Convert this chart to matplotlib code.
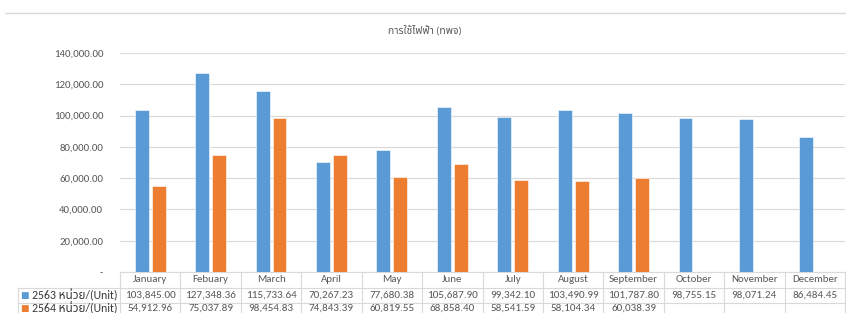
import numpy as np
import matplotlib
matplotlib.use("Agg")
from matplotlib import pyplot as plt
from matplotlib.ticker import FuncFormatter

months = ['January', 'Febuary', 'March', 'April', 'May', 'June', 'July',
          'August', 'September', 'October', 'November', 'December']
units_2563 = [103845.00, 127348.36, 115733.64, 70267.23, 77680.38, 105687.90,
              99342.10, 103490.99, 101787.80, 98755.15, 98071.24, 86484.45]
units_2564 = [54912.96, 75037.89, 98454.83, 74843.39, 60819.55, 68858.40,
              58541.59, 58104.34, 60038.39]
series_labels = ['2563 หน่วย/(Unit)', '2564 หน่วย/(Unit)']
title = 'การใช้ไฟฟ้า (ทพจ)'
yticks = [0, 20000, 40000, 60000, 80000, 100000, 120000, 140000]

blue = '#5B9BD5'
orange = '#ED7D31'
grid_c = '#D9D9D9'
txt_c = '#595959'
fonts = ['Carlito', 'Noto Sans Thai', 'IBM Plex Sans Thai', 'FreeSerif', 'DejaVu Sans']
plt.rcParams['font.family'] = fonts

W, H = 846, 313
fig = plt.figure(figsize=(W / 100, H / 100), dpi=100, facecolor='white')

# plot area in pixels
left, right, top, bottom = 120, 845, 53, 272
ax = fig.add_axes([left / W, 1 - bottom / H, (right - left) / W, (bottom - top) / H])

x = np.arange(len(months))
bw = 0.23
ax.bar(x - 0.14, units_2563, width=bw, color=blue, edgecolor='white', linewidth=0.4, zorder=3)
ax.bar(x[:len(units_2564)] + 0.14, units_2564, width=bw, color=orange,
       edgecolor='white', linewidth=0.4, zorder=3)

ax.set_xlim(-0.5, len(months) - 0.5)
ax.set_ylim(0, 140000)
ax.set_yticks(yticks)
ax.yaxis.set_major_formatter(FuncFormatter(lambda v, p: '-' if v == 0 else f'{v:,.2f}'))
ax.tick_params(axis='y', length=0, labelsize=7.8, labelcolor=txt_c, pad=12)
ax.set_xticks([])
ax.yaxis.grid(True, color=grid_c, linewidth=0.8, zorder=0)
for s in ax.spines.values():
    s.set_visible(False)

fig.text(425 / W, 1 - 30 / H, title, ha='center', va='center', fontsize=7.5, color=txt_c)
# top separator line of the chart frame
fig.add_artist(plt.Line2D([5 / W, 1], [1 - 13 / H, 1 - 13 / H], color=grid_c, linewidth=1))

# data table below the plot (x in data units, y in axes fraction)
tr = ax.get_xaxis_transform()
rh = 15.5 / (bottom - top)
x_lab = -0.5 - (left - 18) / ((right - left) / len(months))
rows_y = [0, -rh, -2 * rh, -3 * rh]
line_kw = dict(transform=tr, clip_on=False, color=grid_c, linewidth=0.8)

ax.plot([-0.5, len(months) - 0.5], [0, 0], **line_kw)
for yy in rows_y[1:]:
    ax.plot([x_lab, len(months) - 0.5], [yy, yy], **line_kw)
ax.plot([x_lab, x_lab], [rows_y[1], rows_y[3]], **line_kw)
for i in range(len(months) + 1):
    ax.plot([i - 0.5, i - 0.5], [0, rows_y[3]], **line_kw)

for i, m in enumerate(months):
    ax.text(i, -rh / 2, m, transform=tr, ha='center', va='center',
            fontsize=7.8, color=txt_c, clip_on=False)
for r, (vals, col, lab) in enumerate(zip([units_2563, units_2564], [blue, orange], series_labels)):
    yc = -(r + 1.5) * rh + (0.011 if r == 1 else 0)
    ax.text(x_lab + 0.04, yc, '■', transform=tr, ha='left', va='center',
            fontsize=6.5, color=col, clip_on=False, family=['DejaVu Sans'])
    ax.text(x_lab + 0.23, yc, lab, transform=tr, ha='left', va='center',
            fontsize=8.5, color='#3A3A3A', clip_on=False)
    for i, v in enumerate(vals):
        ax.text(i, yc, f'{v:,.2f}', transform=tr, ha='center', va='center',
                fontsize=8, color=txt_c, clip_on=False)

fig.savefig('out.png', dpi=100)
